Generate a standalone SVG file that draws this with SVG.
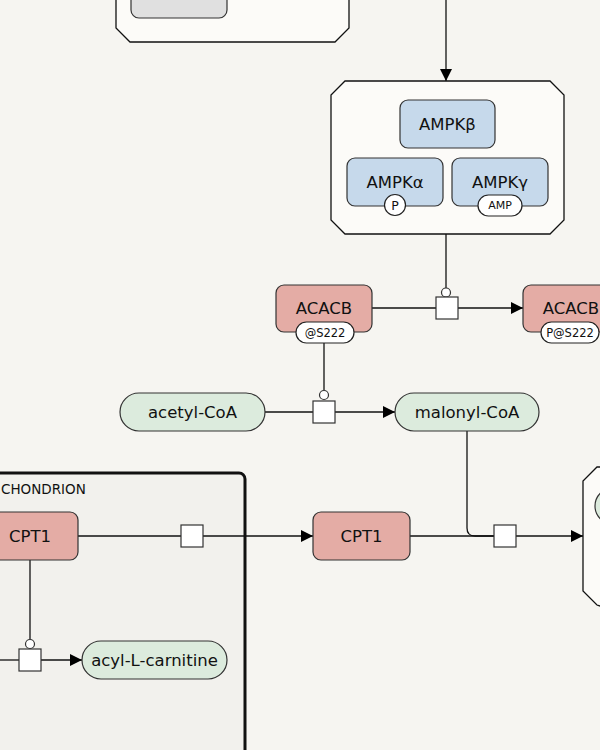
<svg xmlns="http://www.w3.org/2000/svg" width="600" height="750" viewBox="0 0 600 750">
<defs>
<marker id="arr" viewBox="0 0 12 12" refX="12" refY="6" markerWidth="12" markerHeight="12" markerUnits="userSpaceOnUse" orient="auto">
<path d="M0,0 L12,6 L0,12 Z" fill="#000"/>
</marker>
<style>
text{font-family:"DejaVu Sans","Liberation Sans",sans-serif;fill:#111;text-anchor:middle;dominant-baseline:central}
.lbl{font-size:16.5px}
.st{font-size:11.5px}
.cplx{fill:#fcfbf8;stroke:#111;stroke-width:1.3}
.prot{fill:#c6d9eb;stroke:#333;stroke-width:1.2}
.enz{fill:#e4aca5;stroke:#333;stroke-width:1.2}
.met{fill:#dcebdd;stroke:#333;stroke-width:1.2}
.sv{fill:#fff;stroke:#333;stroke-width:1.2}
.pn{fill:#fff;stroke:#333;stroke-width:1.2}
.ln{fill:none;stroke:#111;stroke-width:1.3}
</style>
</defs>
<rect width="600" height="750" fill="#f6f5f1"/>

<g id="mitochondrion">
<rect x="-20" y="473" width="265" height="300" rx="6" fill="#f2f1ed" stroke="#111" stroke-width="3"/>
<text x="1" y="489" style="font-size:13.5px;text-anchor:start">CHONDRION</text>
</g>

<g id="complex-top">
<path class="cplx" d="M116,-20 L349,-20 L349,28 L335,42 L130,42 L116,28 Z"/>
<rect x="131" y="-30" width="96" height="48" rx="8" fill="#e0e0e0" stroke="#333" stroke-width="1.2"/>
</g>

<g id="connectors">
<line class="ln" x1="446" y1="0" x2="446" y2="81" marker-end="url(#arr)"/>
<line class="ln" x1="446" y1="234" x2="446" y2="288"/>
<circle class="sv" cx="446" cy="292.5" r="4.5"/>
<line class="ln" x1="372" y1="308" x2="436" y2="308"/>
<line class="ln" x1="458" y1="308" x2="523" y2="308" marker-end="url(#arr)"/>
<line class="ln" x1="324" y1="343" x2="324" y2="390"/>
<circle class="sv" cx="324" cy="395" r="4.5"/>
<line class="ln" x1="265" y1="412" x2="313" y2="412"/>
<line class="ln" x1="335" y1="412" x2="395" y2="412" marker-end="url(#arr)"/>
<path class="ln" d="M467,431 L467,528 Q467,536 475,536 L494,536"/>
<line class="ln" x1="410" y1="536" x2="494" y2="536"/>
<line class="ln" x1="516" y1="536" x2="583" y2="536" marker-end="url(#arr)"/>
<line class="ln" x1="78" y1="536" x2="181" y2="536"/>
<line class="ln" x1="203" y1="536" x2="313" y2="536" marker-end="url(#arr)"/>
<line class="ln" x1="30" y1="560" x2="30" y2="639"/>
<circle class="sv" cx="30" cy="644" r="4.5"/>
<line class="ln" x1="0" y1="660" x2="19" y2="660"/>
<line class="ln" x1="41" y1="660" x2="82" y2="660" marker-end="url(#arr)"/>
<rect class="pn" x="436" y="297" width="22" height="22"/>
<rect class="pn" x="313" y="401" width="22" height="22"/>
<rect class="pn" x="494" y="525" width="22" height="22"/>
<rect class="pn" x="181" y="525" width="22" height="22"/>
<rect class="pn" x="19" y="649" width="22" height="22"/>
</g>

<g id="ampk-complex">
<path class="cplx" d="M345,81 L550,81 L564,95 L564,220 L550,234 L345,234 L331,220 L331,95 Z"/>
</g>
<g id="ampk-beta">
<rect class="prot" x="400" y="100" width="95" height="48" rx="8"/>
<text class="lbl" x="447.5" y="124">AMPKβ</text>
</g>
<g id="ampk-alpha">
<rect class="prot" x="347" y="158" width="96" height="48" rx="8"/>
<text class="lbl" x="395" y="182">AMPKα</text>
<circle cx="395" cy="205" r="10.5" fill="#fff" stroke="#222" stroke-width="1.2"/>
<text x="395" y="205" style="font-size:12.5px">P</text>
</g>
<g id="ampk-gamma">
<rect class="prot" x="452" y="158" width="96" height="48" rx="8"/>
<text class="lbl" x="500" y="182">AMPKγ</text>
<rect x="478" y="195" width="44" height="21" rx="10.5" fill="#fff" stroke="#222" stroke-width="1.2"/>
<text class="st" x="500" y="205.5" style="font-size:11px">AMP</text>
</g>

<g id="acacb-1">
<rect class="enz" x="276" y="285" width="96" height="47" rx="8"/>
<text class="lbl" x="324" y="308">ACACB</text>
<rect x="296" y="322" width="58" height="21" rx="10.5" fill="#fff" stroke="#222" stroke-width="1.2"/>
<text class="st" x="325" y="332.5">@S222</text>
</g>
<g id="acacb-2">
<rect class="enz" x="523" y="285" width="96" height="47" rx="8"/>
<text class="lbl" x="571" y="308">ACACB</text>
<rect x="541" y="322" width="58" height="21" rx="10.5" fill="#fff" stroke="#222" stroke-width="1.2"/>
<text class="st" x="570" y="332.5">P@S222</text>
</g>

<g id="acetyl-coa">
<rect class="met" x="120" y="393" width="145" height="38" rx="19"/>
<text class="lbl" x="192.5" y="412">acetyl-CoA</text>
</g>
<g id="malonyl-coa">
<rect class="met" x="395" y="393" width="144" height="38" rx="19"/>
<text class="lbl" x="467" y="412">malonyl-CoA</text>
</g>

<g id="cpt1-mid">
<rect class="enz" x="313" y="512" width="97" height="48" rx="8"/>
<text class="lbl" x="361.5" y="536">CPT1</text>
</g>
<g id="cpt1-left">
<rect class="enz" x="-18" y="512" width="96" height="48" rx="8"/>
<text class="lbl" x="30" y="536">CPT1</text>
</g>
<g id="acyl-l-carnitine">
<rect class="met" x="82" y="641" width="145" height="38" rx="19"/>
<text class="lbl" x="154.5" y="660">acyl-L-carnitine</text>
</g>

<g id="complex-right">
<path class="cplx" d="M597,467 L640,467 L640,620 L597,605 L583,591 L583,481 Z"/>
<rect class="met" x="595" y="488" width="140" height="36" rx="18"/>
</g>
</svg>
